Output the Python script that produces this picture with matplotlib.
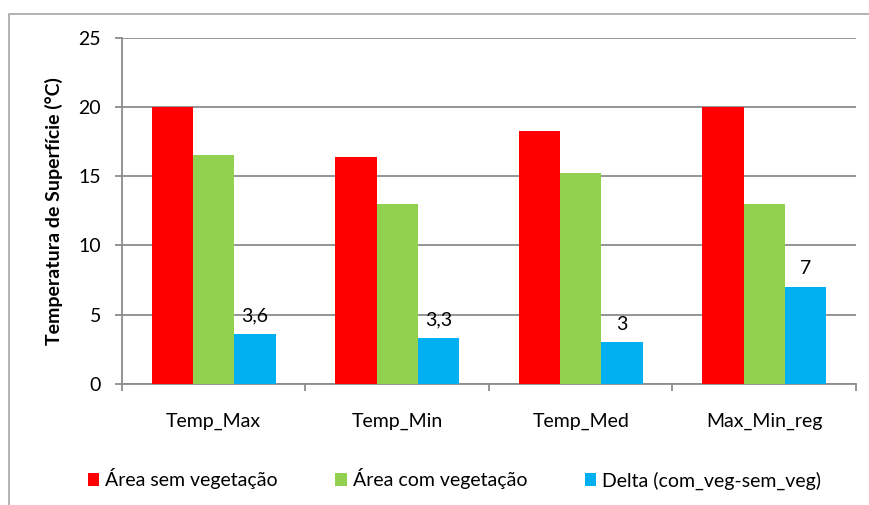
import matplotlib
matplotlib.use("Agg")
import matplotlib.pyplot as plt
from matplotlib.patches import Rectangle
import numpy as np

plt.rcParams['font.family'] = ['Lato', 'DejaVu Sans']

categories = ["Temp_Max", "Temp_Min", "Temp_Med", "Max_Min_reg"]
sem_veg = [20.0, 16.4, 18.3, 20.0]
com_veg = [16.5, 13.0, 15.2, 13.0]
delta = [3.6, 3.3, 3.0, 7.0]
series_names = ["Área sem vegetação", "Área com vegetação", "Delta (com_veg-sem_veg)"]
colors = ["#FF0000", "#92D050", "#00B0F0"]
y_ticks = [0, 5, 10, 15, 20, 25]

fig = plt.figure(figsize=(8.69, 5.05), dpi=100)
ax = fig.add_axes([0.1404, 0.2396, 0.8446, 0.6857])

# outer chart frame
fig.patches.append(Rectangle((9 / 869, -0.05), 1.0, 1 - 14 / 505 + 0.05,
                             transform=fig.transFigure, fill=False,
                             edgecolor="#a6a6a6", linewidth=1.2))

x = np.arange(len(categories))
w = 0.225
bars = []
for i, (vals, col, name) in enumerate(zip([sem_veg, com_veg, delta], colors, series_names)):
    b = ax.bar(x + (i - 1) * w, vals, width=w, color=col, label=name, zorder=3)
    bars.append(b)

ax.bar_label(bars[2], labels=[f"{v:g}".replace(".", ",") for v in delta],
             padding=7, fontsize=14, color="black")

ax.set_xlim(-0.5, len(categories) - 0.5)
ax.set_ylim(0, 25)
ax.set_yticks(y_ticks)
ax.yaxis.grid(True, color="#8c8c8c", linewidth=1.3, zorder=0)
ax.set_axisbelow(True)

ax.set_xticks(np.arange(len(categories) + 1) - 0.5)
ax.set_xticklabels([])
ax.set_xticks(x, minor=True)
ax.set_xticklabels(categories, minor=True, fontsize=14)
ax.tick_params(axis="x", which="major", length=5, color="#8c8c8c", width=1.3)
ax.tick_params(axis="x", which="minor", length=0, pad=21)
ax.tick_params(axis="y", length=5, color="#8c8c8c", width=1.3, labelsize=14, pad=10)

for s in ["top", "right"]:
    ax.spines[s].set_visible(False)
for s in ["left", "bottom"]:
    ax.spines[s].set_color("#8c8c8c")
    ax.spines[s].set_linewidth(1.3)

ax.set_ylabel("Temperatura de Superfície (°C)", fontsize=14, fontweight="bold")
ax.yaxis.set_label_coords(-0.08, 0.5)

fig.legend(loc="center", bbox_to_anchor=(0.523, 0.0515), ncol=3, frameon=False,
           fontsize=14, handlelength=0.6, handleheight=0.6, handletextpad=0.3,
           columnspacing=2.95)

fig.savefig("out.png", dpi=100)
